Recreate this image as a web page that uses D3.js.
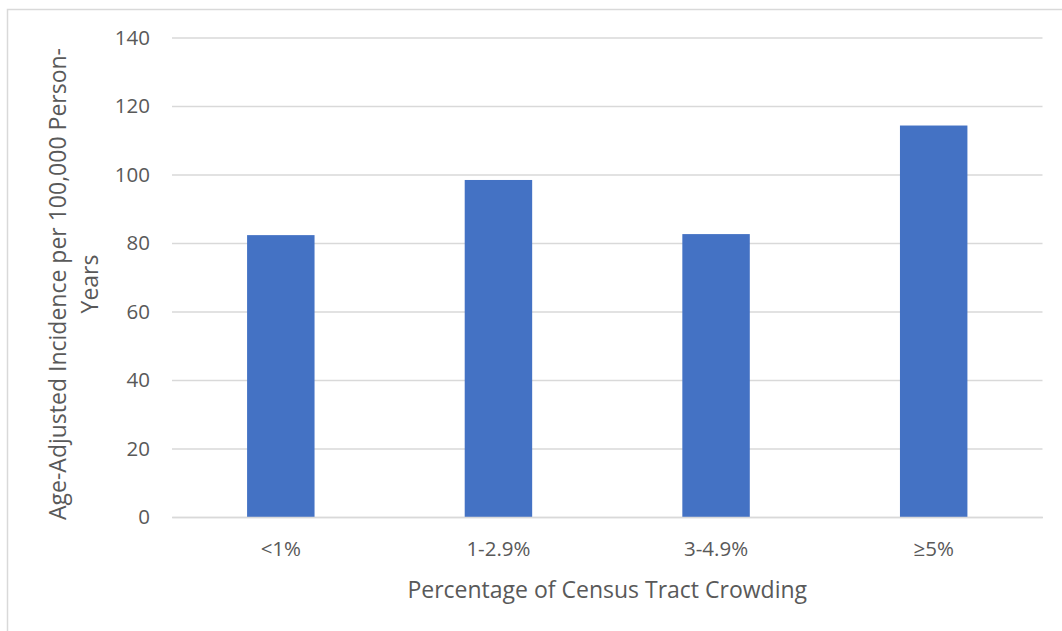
<!DOCTYPE html>
<html>
<head>
<meta charset="utf-8">
<script src="https://cdn.jsdelivr.net/npm/d3@7"></script>
<style>
  html, body { margin: 0; padding: 0; background: #fff; }
  svg { display: block; }
  text { font-family: "Open Sans", "Noto Sans", sans-serif; fill: #595959; }
</style>
</head>
<body>
<div class="canvas"></div>
<script>
const categories = ['<1%', '1-2.9%', '3-4.9%', '≥5%'];
const incidence = [82.3, 98.4, 82.6, 114.3];
const yTicks = [0, 20, 40, 60, 80, 100, 120, 140];

const WIDTH = 1062;
const HEIGHT = 631;
const margin = { top: 37.5, right: 19.5, bottom: 114, left: 172 };

const svg = d3.select('.canvas')
    .append('svg')
    .attr('width', WIDTH)
    .attr('height', HEIGHT);

// chart frame
svg.append('rect')
    .attr('x', 7.5)
    .attr('y', 9.5)
    .attr('width', WIDTH + 10)
    .attr('height', HEIGHT + 10)
    .attr('fill', 'none')
    .attr('stroke', '#d9d9d9')
    .attr('stroke-width', 1.5);

const x = d3.scaleBand()
    .domain(categories)
    .range([margin.left, WIDTH - margin.right])
    .paddingInner(0.69)
    .paddingOuter(0.345);

const y = d3.scaleLinear()
    .domain([0, 140])
    .range([HEIGHT - margin.bottom, margin.top]);

// gridlines + y tick labels
const yAxis = svg.append('g')
    .attr('transform', `translate(${margin.left}, 0)`)
    .call(d3.axisLeft(y)
        .tickValues(yTicks)
        .tickSize(-(WIDTH - margin.left - margin.right))
        .tickPadding(22));

yAxis.select('.domain').remove();
yAxis.selectAll('.tick line')
    .attr('stroke', '#d9d9d9')
    .attr('stroke-width', 1.5);
yAxis.selectAll('.tick text')
    .attr('font-size', 20.5);

// bars
svg.append('g')
    .selectAll('rect')
    .data(incidence)
    .join('rect')
    .attr('x', (d, i) => x(categories[i]))
    .attr('y', d => y(d))
    .attr('width', x.bandwidth())
    .attr('height', d => y(0) - y(d))
    .attr('fill', '#4472c4');

// x axis
const xAxis = svg.append('g')
    .attr('transform', `translate(0, ${y(0)})`)
    .call(d3.axisBottom(x).tickSize(0).tickPadding(24));

xAxis.select('.domain')
    .attr('stroke', '#d9d9d9')
    .attr('stroke-width', 1.5);
xAxis.selectAll('.tick text')
    .attr('font-size', 20.5);

svg.selectAll('.tick text').attr('fill', '#595959').attr('font-family', null);

// axis titles
svg.append('text')
    .attr('x', (margin.left + WIDTH - margin.right) / 2)
    .attr('y', 598)
    .attr('text-anchor', 'middle')
    .attr('font-size', 23)
    .text('Percentage of Census Tract Crowding');

const yTitle = svg.append('text')
    .attr('transform', 'translate(66, 284) rotate(-90)')
    .attr('text-anchor', 'middle')
    .attr('font-size', 23);

yTitle.append('tspan')
    .attr('x', 0)
    .attr('dy', 0)
    .text('Age-Adjusted Incidence per 100,000 Person-');
yTitle.append('tspan')
    .attr('x', 0)
    .attr('dy', 32)
    .text('Years');
</script>
</body>
</html>
